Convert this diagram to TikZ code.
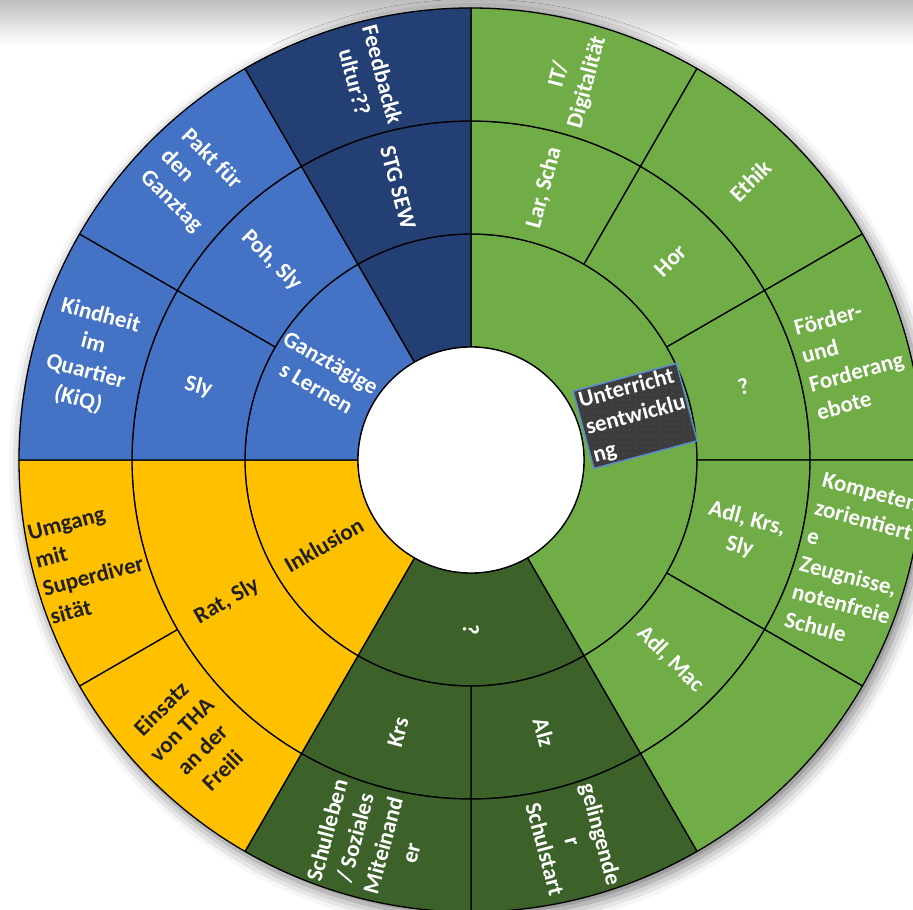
\documentclass[tikz,border=0pt]{standalone}
\usepackage{fontspec}
\setmainfont{Carlito}
\usetikzlibrary{shadows.blur,patterns.meta}
\definecolor{cgreen}{HTML}{70AD47}
\definecolor{cdgreen}{HTML}{3C6129}
\definecolor{cyellow}{HTML}{FFC000}
\definecolor{cblue}{HTML}{4472C4}
\definecolor{cnavy}{HTML}{243F73}
\definecolor{cboxfill}{HTML}{3C3C3C}
\definecolor{cboxline}{HTML}{5B8BD0}
\definecolor{ctext}{HTML}{202020}
\pgfdeclareradialshading{holeshade}{\pgfpoint{0bp}{0bp}}{color(0bp)=(white); color(38bp)=(white); color(50bp)=(black!16); color(52bp)=(black!16)}
% segment: inner radius, outer radius, start angle, end angle (clockwise from top), colour
\newcommand{\sbseg}[5]{%
  \filldraw[segline, fill=#5] ({90-(#3)}:#1pt) -- ({90-(#3)}:#2pt)
    arc[start angle={90-(#3)}, end angle={90-(#4)}, radius=#2pt]
    -- ({90-(#4)}:#1pt)
    arc[start angle={90-(#4)}, end angle={90-(#3)}, radius=#1pt] -- cycle;}
\begin{document}
\begin{tikzpicture}[
  segline/.style={draw=black, line width=1.3pt, line join=round},
  lbl/.style={text=white, font=\fontsize{23}{29}\selectfont\bfseries, inner sep=0pt},
  dlbl/.style={lbl, text=ctext},
  ubox/.style={draw=cboxline, line width=1.5pt, fill=cboxfill, text=white,
    font=\fontsize{23}{28}\selectfont\bfseries, text width=101pt, align=left,
    inner xsep=3pt, inner ysep=2pt,
    postaction={pattern={Dots[radius=0.55pt, distance=6pt]}, pattern color=black!62}}
]
\useasboundingbox (-471pt,-450pt) rectangle (442pt,460pt);
\shade[top color=black!25, bottom color=white] (-471pt,460pt) rectangle (442pt,415pt);
\fill[white, blur shadow={shadow xshift=4pt, shadow yshift=-5pt, shadow blur radius=14pt, shadow opacity=55}] (0,0) circle (452pt);

% ring 1
\sbseg{113}{226}{0}{150}{cgreen}
\sbseg{113}{226}{150}{210}{cdgreen}
\sbseg{113}{226}{210}{270}{cyellow}
\sbseg{113}{226}{270}{330}{cblue}
\sbseg{113}{226}{330}{360}{cnavy}
% ring 2
\sbseg{226}{339}{0}{30}{cgreen}
\sbseg{226}{339}{30}{60}{cgreen}
\sbseg{226}{339}{60}{90}{cgreen}
\sbseg{226}{339}{90}{120}{cgreen}
\sbseg{226}{339}{120}{150}{cgreen}
\sbseg{226}{339}{150}{180}{cdgreen}
\sbseg{226}{339}{180}{210}{cdgreen}
\sbseg{226}{339}{210}{270}{cyellow}
\sbseg{226}{339}{270}{300}{cblue}
\sbseg{226}{339}{300}{330}{cblue}
\sbseg{226}{339}{330}{360}{cnavy}
% ring 3
\sbseg{339}{452}{0}{30}{cgreen}
\sbseg{339}{452}{30}{60}{cgreen}
\sbseg{339}{452}{60}{90}{cgreen}
\sbseg{339}{452}{90}{120}{cgreen}
\sbseg{339}{452}{120}{150}{cgreen}
\sbseg{339}{452}{150}{180}{cdgreen}
\sbseg{339}{452}{180}{210}{cdgreen}
\sbseg{339}{452}{210}{240}{cyellow}
\sbseg{339}{452}{240}{270}{cyellow}
\sbseg{339}{452}{270}{300}{cblue}
\sbseg{339}{452}{300}{330}{cblue}
\sbseg{339}{452}{330}{360}{cnavy}

% hole
\shade[shading=holeshade] (0,0) circle (113pt);
\draw[segline] (0,0) circle (113pt);

% ring 1 labels
\node[lbl, rotate=-90] (r1dg) at (-90:170pt) {?};
\node[dlbl, rotate=30] (r1ye) at (-150:170pt) {Inklusion};
\node[lbl, rotate=-30, align=center] (r1bl) at (150:170pt) {Ganztägige\\s Lernen};
\node[ubox, rotate=15] (r1gr) at (15:170pt) {Unterricht\\sentwicklu\\ng};

% ring 2 labels
\node[lbl, rotate=75] (r2a) at (75:282pt) {Lar, Scha};
\node[lbl, rotate=45] (r2b) at (45:282pt) {Hor};
\node[lbl, rotate=15] (r2c) at (15:282pt) {?};
\node[lbl, rotate=-15, align=center] (r2d) at (-15:282pt) {Adl, Krs,\\Sly};
\node[lbl, rotate=-45] (r2e) at (-45:282pt) {Adl, Mac};
\node[lbl, rotate=-75] (r2f) at (-75:282pt) {Alz};
\node[lbl, rotate=75] (r2g) at (-105:282pt) {Krs};
\node[dlbl, rotate=30] (r2h) at (-150:282pt) {Rat, Sly};
\node[lbl, rotate=-15] (r2i) at (165:282pt) {Sly};
\node[lbl, rotate=-45] (r2j) at (135:282pt) {Poh, Sly};
\node[lbl, rotate=-75] (r2k) at (105:282pt) {STG SEW};

% ring 3 labels
\node[lbl, rotate=75, align=center] (r3a) at (75:395pt) {IT/\\Digitalität};
\node[lbl, rotate=45] (r3b) at (45:395pt) {Ethik};
\node[lbl, rotate=15, align=left] (r3c) at (15:395pt) {Förder-\\und\\Forderang\\ebote};
\node[lbl, rotate=-15, align=left] (r3d) at (-15:395pt) {Kompeten\\zorientiert\\e\\Zeugnisse,\\notenfreie\\Schule};
\node[lbl, rotate=-75, align=center] (r3f) at (-75:395pt) {gelingende\\r\\Schulstart};
\node[lbl, rotate=75, align=center] (r3g) at (-105:395pt) {Schulleben\\/ Soziales\\Miteinand\\er};
\node[dlbl, rotate=45, align=center] (r3h) at (-135:395pt) {Einsatz\\von THA\\an der\\Freili};
\node[dlbl, rotate=15, align=left] (r3i) at (-165:395pt) {Umgang\\mit\\Superdiver\\sität};
\node[lbl, rotate=-15, align=center] (r3j) at (165:395pt) {Kindheit\\im\\Quartier\\(KiQ)};
\node[lbl, rotate=-45, align=left] (r3k) at (135:395pt) {Pakt für\\den\\Ganztag};
\node[lbl, rotate=-75, align=center] (r3l) at (105:395pt) {Feedbackk\\ultur??};
\end{tikzpicture}
\end{document}
